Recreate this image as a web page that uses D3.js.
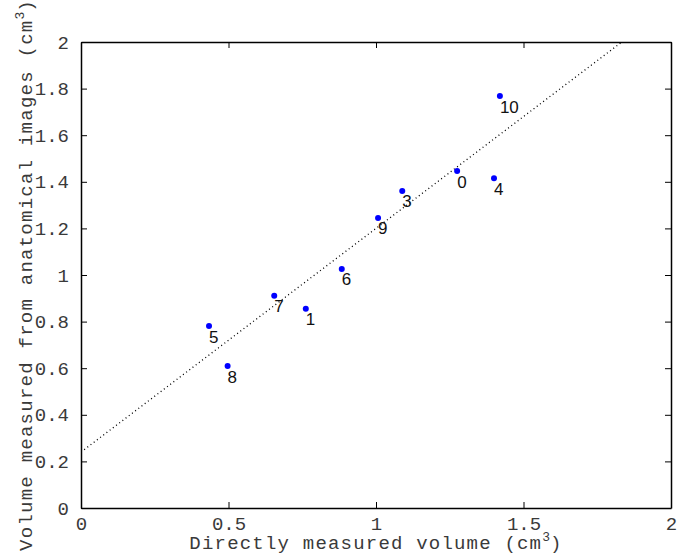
<!DOCTYPE html>
<html>
<head>
<meta charset="utf-8">
<script src="https://cdn.jsdelivr.net/npm/d3@7"></script>
<style>
  body { margin: 0; background: #fff; }
  svg { display: block; }
</style>
</head>
<body>
<div id="chart"></div>
<script>
const labels = ["0", "1", "3", "4", "5", "6", "7", "8", "9", "10"];
const directVolume = [1.275, 0.762, 1.089, 1.400, 0.434, 0.884, 0.655, 0.497, 1.007, 1.420];
const imageVolume = [1.446, 0.855, 1.361, 1.415, 0.781, 1.026, 0.911, 0.609, 1.245, 1.768];
const xTicks = [0, 0.5, 1, 1.5, 2];
const yTicks = [0, 0.2, 0.4, 0.6, 0.8, 1, 1.2, 1.4, 1.6, 1.8, 2];
const fitSlope = 0.96;
const fitIntercept = 0.24;

const data = labels.map((l, i) => ({label: l, x: directVolume[i], y: imageVolume[i]}));

const width = 685, height = 555;
const margins = {top: 42, right: 14, bottom: 47, left: 81};

const svg = d3.select("#chart")
  .append("svg")
  .attr("width", width)
  .attr("height", height);

const xScale = d3.scaleLinear()
  .domain([0, 2])
  .range([margins.left, width - margins.right]);

const yScale = d3.scaleLinear()
  .domain([0, 2])
  .range([height - margins.bottom, margins.top]);

const mono = "'Liberation Mono', 'Courier New', monospace";
const textColor = "#3a3a3a";

svg.append("clipPath")
    .attr("id", "clip")
  .append("rect")
    .attr("x", xScale(0))
    .attr("y", yScale(2))
    .attr("width", xScale(2) - xScale(0))
    .attr("height", yScale(0) - yScale(2));

// fitted line
const xEnd = (2 - fitIntercept) / fitSlope;
const fitLine = d3.line()
  .x(d => xScale(d))
  .y(d => yScale(fitIntercept + fitSlope * d));

svg.append("path")
  .attr("clip-path", "url(#clip)")
  .attr("d", fitLine([0, xEnd]))
  .style("fill", "none")
  .style("stroke", "#000")
  .style("stroke-width", 1.3)
  .style("stroke-dasharray", "1,3");

// axes with inward ticks on all four sides
const tickLen = 6;
svg.append("g")
    .attr("transform", `translate(0,${yScale(0)})`)
  .call(d3.axisBottom(xScale).tickValues(xTicks).tickSizeInner(-tickLen).tickSizeOuter(0).tickPadding(9).tickFormat(d3.format("")))
  .call(g => g.selectAll("text").style("font-family", mono).style("font-size", "19px").attr("fill", textColor));

svg.append("g")
    .attr("transform", `translate(0,${yScale(2)})`)
  .call(d3.axisTop(xScale).tickValues(xTicks).tickSizeInner(-tickLen).tickSizeOuter(0).tickFormat(""));

svg.append("g")
    .attr("transform", `translate(${xScale(0)},0)`)
  .call(d3.axisLeft(yScale).tickValues(yTicks).tickSizeInner(-tickLen).tickSizeOuter(0).tickPadding(12).tickFormat(d3.format("")))
  .call(g => g.selectAll("text").style("font-family", mono).style("font-size", "19px").attr("fill", textColor));

svg.append("g")
    .attr("transform", `translate(${xScale(2)},0)`)
  .call(d3.axisRight(yScale).tickValues(yTicks).tickSizeInner(-tickLen).tickSizeOuter(0).tickFormat(""));

svg.selectAll(".domain")
  .style("stroke", "#000")
  .style("stroke-width", 1.5);

// points
svg.append("g")
  .selectAll("circle")
  .data(data)
  .join("circle")
    .attr("cx", d => xScale(d.x))
    .attr("cy", d => yScale(d.y))
    .attr("r", 3)
    .attr("fill", "#0000ff");

svg.append("g")
  .selectAll("text")
  .data(data)
  .join("text")
    .attr("x", d => xScale(d.x))
    .attr("y", d => yScale(d.y) + 16.5)
    .style("font-family", "'Liberation Sans', Arial, sans-serif")
    .style("font-size", "17px")
    .attr("fill", "#111")
    .text(d => d.label);

// axis titles
const xTitle = svg.append("text")
  .attr("x", (xScale(0) + xScale(2)) / 2)
  .attr("y", height - 6)
  .attr("text-anchor", "middle")
  .style("font-family", mono)
  .style("font-size", "19px")
  .style("letter-spacing", "1.2px")
  .attr("fill", textColor);
xTitle.append("tspan").text("Directly measured volume (cm");
xTitle.append("tspan").attr("dy", -8).style("font-size", "13px").style("letter-spacing", "0px").text("3");
xTitle.append("tspan").attr("dy", 8).text(")");

const yTitle = svg.append("text")
  .attr("transform", `translate(32,${(yScale(0) + yScale(2)) / 2}) rotate(-90)`)
  .attr("text-anchor", "middle")
  .style("font-family", mono)
  .style("font-size", "19px")
  .style("letter-spacing", "1.25px")
  .attr("fill", textColor);
yTitle.append("tspan").text("Volume measured from anatomical images (cm");
yTitle.append("tspan").attr("dy", -8).style("font-size", "13px").style("letter-spacing", "0px").text("3");
yTitle.append("tspan").attr("dy", 8).text(")");
</script>
</body>
</html>
